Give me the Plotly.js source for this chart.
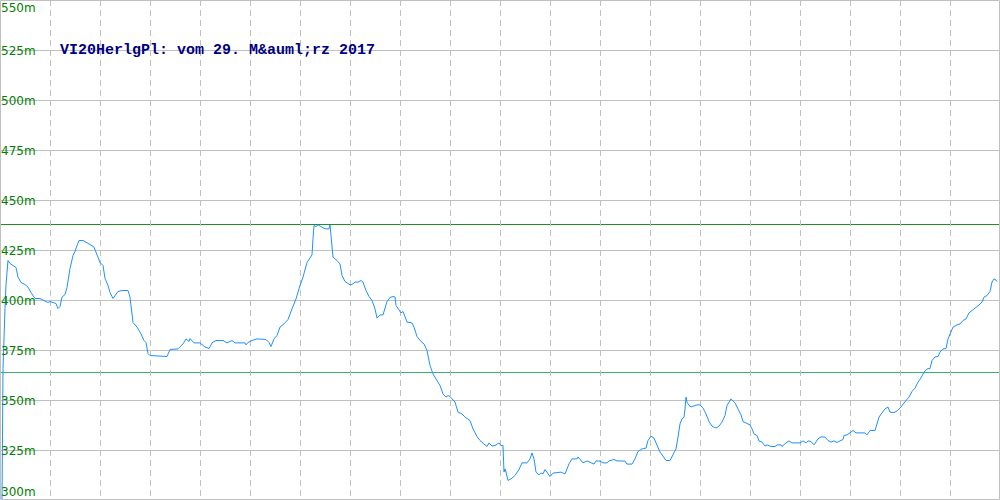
<!DOCTYPE html>
<html>
<head>
<meta charset="utf-8">
<script src="https://cdn.plot.ly/plotly-3.0.1.min.js"></script>
<style>html,body{margin:0;padding:0;background:#fff;}#chart{width:1000px;height:500px;}</style>
</head>
<body>
<div id="chart"></div>
<script>
// Distance (horizontal position) and elevation profile (m)
const distance = [2,3,5,6,8,10,13,16,18,21,25,28,31,35,40,45,48,50,53,56,58,60,62,65,67,70,73,75,77,79,83,87,90,94,97,100,103,105,108,110,113,115,118,122,128,130,133,137,141,144,146,148,150,
167,170,178,183,186,189,190,194,200,205,209,212,216,223,227,232,235,245,246,248,252,257,266,269,271,274,277,280,284,288,292,296,300,
303,307,310,312,313,314,316,318,322,325,329,330,331,332,333,337,340,342,345,350,353,355,358,361,363,366,369,372,375,377,380,383,385,387,390,393,395,396,399,401,403,405,407,412,414,417,421,424,427,430,433,437,440,443,446,448,450,
455,458,462,465,470,473,477,480,484,487,489,492,495,499,501,503,504,505,506,508,512,515,519,522,527,530,532,534,536,539,541,543,545,548,550,553,558,561,565,569,572,577,578,583,587,591,594,596,600,
603,607,609,614,617,625,627,632,635,638,642,646,648,651,654,657,660,663,666,670,673,676,678,680,682,684,685,686,687,689,691,694,697,700,703,706,709,712,716,719,722,725,727,731,733,735,738,741,743,746,750,
752,754,757,759,762,765,767,771,775,777,781,782,786,789,792,800,803,806,808,811,814,818,821,825,828,831,834,837,840,843,844,847,850,853,856,860,865,867,870,875,877,879,882,885,888,890,894,897,900,
903,906,909,912,915,918,921,924,927,930,932,935,938,940,943,946,948,951,953,957,960,963,966,969,972,976,979,982,984,987,990,992,994,996,997];
const elevation = [300,366,396,408,420,418.5,417.5,416.5,411.7,409,408,406.7,404,401,401,400,399,399.5,399,398.5,396,397,401.7,403,406.5,416,422.5,424.5,427.5,430,430,429,428,426.7,422.5,419,417.5,411,407.5,404,401,402.5,404.5,405,405,401.7,389,386.7,383.3,380,379,373.5,372.5,
372,375.5,375.8,378.3,380.8,379.5,381,378.8,378.8,376.7,376,378.8,380,380,378.8,380,378.8,378.8,377.8,379,380,380.8,380.5,379,377,380.8,382.5,386.7,388.3,390.5,395.8,400.8,407.5,
411.7,419,421.7,422.8,431,437.5,437,437.8,436.7,435.8,435.8,437.8,432.5,425.8,421.7,420,418.3,412.5,409.5,407.8,408.3,409.2,409.2,410,409.2,405,402,400,395.8,391.2,392.8,392.8,395.8,399.5,401.5,402,401.7,397.5,395.3,393.8,394.5,391.7,389.2,388.8,386.7,382,379.5,378.3,375,367.5,363.3,360,357.5,353.3,351.7,352.5,352,
349.2,344.2,343.3,341.7,340,335.8,332,330,328.2,327,328.8,327.2,327.5,328.8,327.5,327.5,314.2,315.8,314.2,310,311.2,312.5,315.5,318.8,318.8,320.8,323.8,320.8,314.2,312.8,313.8,313.3,315.5,313.3,312,313.7,314.2,314.2,313.3,318.3,320.8,320.8,321.8,318.8,319.8,318.8,318.2,319.8,319.7,
318.8,318.8,319.8,320.5,319.8,319.7,318.2,318.2,320.8,324.5,325.8,326.2,330,332.2,331.2,327.5,324.2,322.2,320,320,322.8,325.8,331.7,338.3,340.8,341.7,345.8,351.7,349.2,347.5,346.8,347.5,347.8,347.8,346.2,343.3,339.5,337.2,336.2,337.2,339.2,342.5,347.5,350.8,349.8,348.8,345.8,342.8,339.5,338.8,337.8,
335.8,333.3,332.5,329.7,329.2,327.2,327.8,327,327,327.8,327.8,327,328.8,329.8,328.8,328.8,329.8,328.8,329.8,329.5,327.8,330.8,331.8,331.7,330,329.2,329.8,329,329.8,330.5,332.5,332.8,333.8,335,333.8,333.8,333.8,332.8,335,335,338.3,341.7,343.8,345.8,346.7,344.2,344,344.7,346.2,
348.3,350,351.7,354.5,356.2,359.2,361.3,364.2,365.8,366,370,371.8,372,374.2,375.8,376,380.8,384.2,386.7,387.8,388.3,390,390.8,393.8,395,396.2,397.8,399.2,401.7,402.5,404.5,409.2,410.8,410.2,409.5];

// Reference levels (max / min lines)
const refLevels = [438, 364];
const refColors = ['#228b22', '#3cb371'];

// Y axis tick values and labels
const yTicks = [300, 325, 350, 375, 400, 425, 450, 475, 500, 525, 550];
const yTickLabels = ['300m','325m','350m','375m','400m','425m','450m','475m','500m','525m','550m'];

const titleText = 'VI20HerlgPl: vom 29. M&auml;rz 2017';

const trace = {
  x: distance, y: elevation, type: 'scatter', mode: 'lines',
  line: {color: '#1e90ff', width: 1}, hoverinfo: 'skip', showlegend: false
};

const shapes = [];
// mask gridline behind labels (below traces)
yTicks.forEach(function(v, i){
  if (i === 0 || i === yTicks.length - 1) return;
  shapes.push({type:'rect', layer:'below', xref:'paper', yref:'y', x0:0, x1:0.033, y0:v-0.8, y1:v+0.8,
    fillcolor:'#ffffff', line:{width:0}});
});
refLevels.forEach(function(v, i){
  shapes.push({type:'line', layer:'below', xref:'paper', yref:'y', x0:0, x1:1, y0:v, y1:v,
    line:{color: refColors[i], width:1}});
});
// frame
shapes.push({type:'rect', layer:'above', xref:'paper', yref:'paper', x0:0.0005, x1:0.9995, y0:0.001, y1:0.999,
  line:{color:'#c0c0c0', width:1}, fillcolor:'rgba(0,0,0,0)'});

const lastIdx = yTicks.length - 1;
const annotations = yTicks.map(function(v, i){
  const isEnd = (i === 0 || i === lastIdx);
  return {xref:'paper', yref: isEnd ? 'paper' : 'y', x:0, y: isEnd ? (i === 0 ? 0 : 1) : v, xanchor:'left',
    yanchor: i === 0 ? 'bottom' : (i === lastIdx ? 'top' : 'middle'),
    text: yTickLabels[i], showarrow:false, borderpad:0,
    font:{family:'DejaVu Sans, Verdana, sans-serif', size:12, color:'#008000'}};
});

const layout = {
  width: 1000, height: 500,
  margin: {l:0, r:0, t:0, b:0, pad:0},
  paper_bgcolor: '#ffffff', plot_bgcolor: '#ffffff',
  showlegend: false,
  title: {text: titleText, x: 0.06, xanchor: 'left', xref: 'paper', y: 0.903, yanchor: 'middle', yref: 'paper',
    font: {family: 'Liberation Mono, Courier New, monospace', size: 15, color: '#000080', weight: 'bold'}},
  xaxis: {range: [0, 1000], tick0: 0, dtick: 50, showticklabels: false, ticks: '',
    showgrid: true, gridcolor: '#c0c0c0', gridwidth: 1, griddash: '6px,4px', zeroline: false, showline: false, fixedrange: true},
  yaxis: {range: [300.25, 550.25], tickvals: yTicks, showticklabels: false, ticks: '',
    showgrid: true, gridcolor: '#c0c0c0', gridwidth: 1, zeroline: false, showline: false, fixedrange: true},
  shapes: shapes,
  annotations: annotations
};

Plotly.newPlot('chart', [trace], layout, {displayModeBar: false, staticPlot: true});
</script>
</body>
</html>
